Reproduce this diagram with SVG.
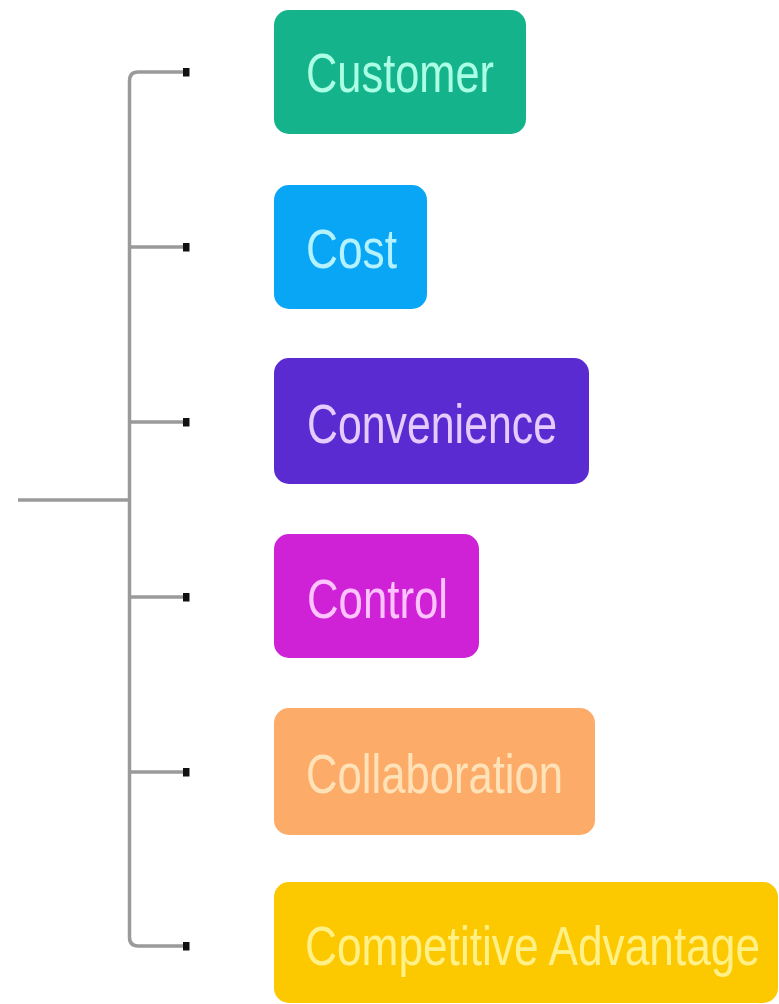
<svg xmlns="http://www.w3.org/2000/svg" width="779" height="1004" viewBox="0 0 779 1004">
<defs>
<style>
.conn{fill:none;stroke:#9a9a9a;stroke-width:3.5;}
.box{stroke:none;}
.lbl{font-family:"Liberation Sans",Arial,sans-serif;font-size:44px;}
</style>
<marker id="dot" viewBox="0 0 7 9" refX="3.5" refY="4.5" markerWidth="7" markerHeight="9" markerUnits="userSpaceOnUse" orient="auto">
<rect x="0" y="0" width="7" height="9" fill="#111"/>
</marker>
</defs>
<rect width="779" height="1004" fill="#ffffff"/>
<g id="connectors">
<path class="conn" d="M18,500 H129"/>
<path class="conn" d="M186,72 H138 Q129.5,72 129.5,81 V937 Q129.5,946 138,946 H186" marker-start="url(#dot)" marker-end="url(#dot)"/>
<path class="conn" d="M129.5,247 H186" marker-end="url(#dot)"/>
<path class="conn" d="M129.5,422 H186" marker-end="url(#dot)"/>
<path class="conn" d="M129.5,597 H186" marker-end="url(#dot)"/>
<path class="conn" d="M129.5,772 H186" marker-end="url(#dot)"/>
</g>
<g id="node-customer">
<rect class="box" x="274" y="10" width="252" height="124" rx="15" fill="#14b38b"/>
<text class="lbl" transform="translate(306,92) scale(1,1.27)" fill="#aaffe4" textLength="188" lengthAdjust="spacingAndGlyphs">Customer</text>
</g>
<g id="node-cost">
<rect class="box" x="274" y="185" width="153" height="124" rx="15" fill="#0aa6f6"/>
<text class="lbl" transform="translate(306,268) scale(1,1.27)" fill="#b4f2ff" textLength="91" lengthAdjust="spacingAndGlyphs">Cost</text>
</g>
<g id="node-convenience">
<rect class="box" x="274" y="358" width="315" height="126" rx="15" fill="#5a2bd0"/>
<text class="lbl" transform="translate(307,443) scale(1,1.27)" fill="#e4ccff" textLength="250" lengthAdjust="spacingAndGlyphs">Convenience</text>
</g>
<g id="node-control">
<rect class="box" x="274" y="534" width="205" height="124" rx="15" fill="#cf22d6"/>
<text class="lbl" transform="translate(307,618) scale(1,1.27)" fill="#ffc4ff" textLength="141" lengthAdjust="spacingAndGlyphs">Control</text>
</g>
<g id="node-collaboration">
<rect class="box" x="274" y="708" width="321" height="127" rx="15" fill="#fdab68"/>
<text class="lbl" transform="translate(306,793) scale(1,1.27)" fill="#ffe2b8" textLength="257" lengthAdjust="spacingAndGlyphs">Collaboration</text>
</g>
<g id="node-competitive-advantage">
<rect class="box" x="274" y="882" width="504" height="121" rx="15" fill="#fcc800"/>
<text class="lbl" transform="translate(305,965) scale(1,1.27)" fill="#fff188" textLength="455" lengthAdjust="spacingAndGlyphs">Competitive Advantage</text>
</g>
</svg>
